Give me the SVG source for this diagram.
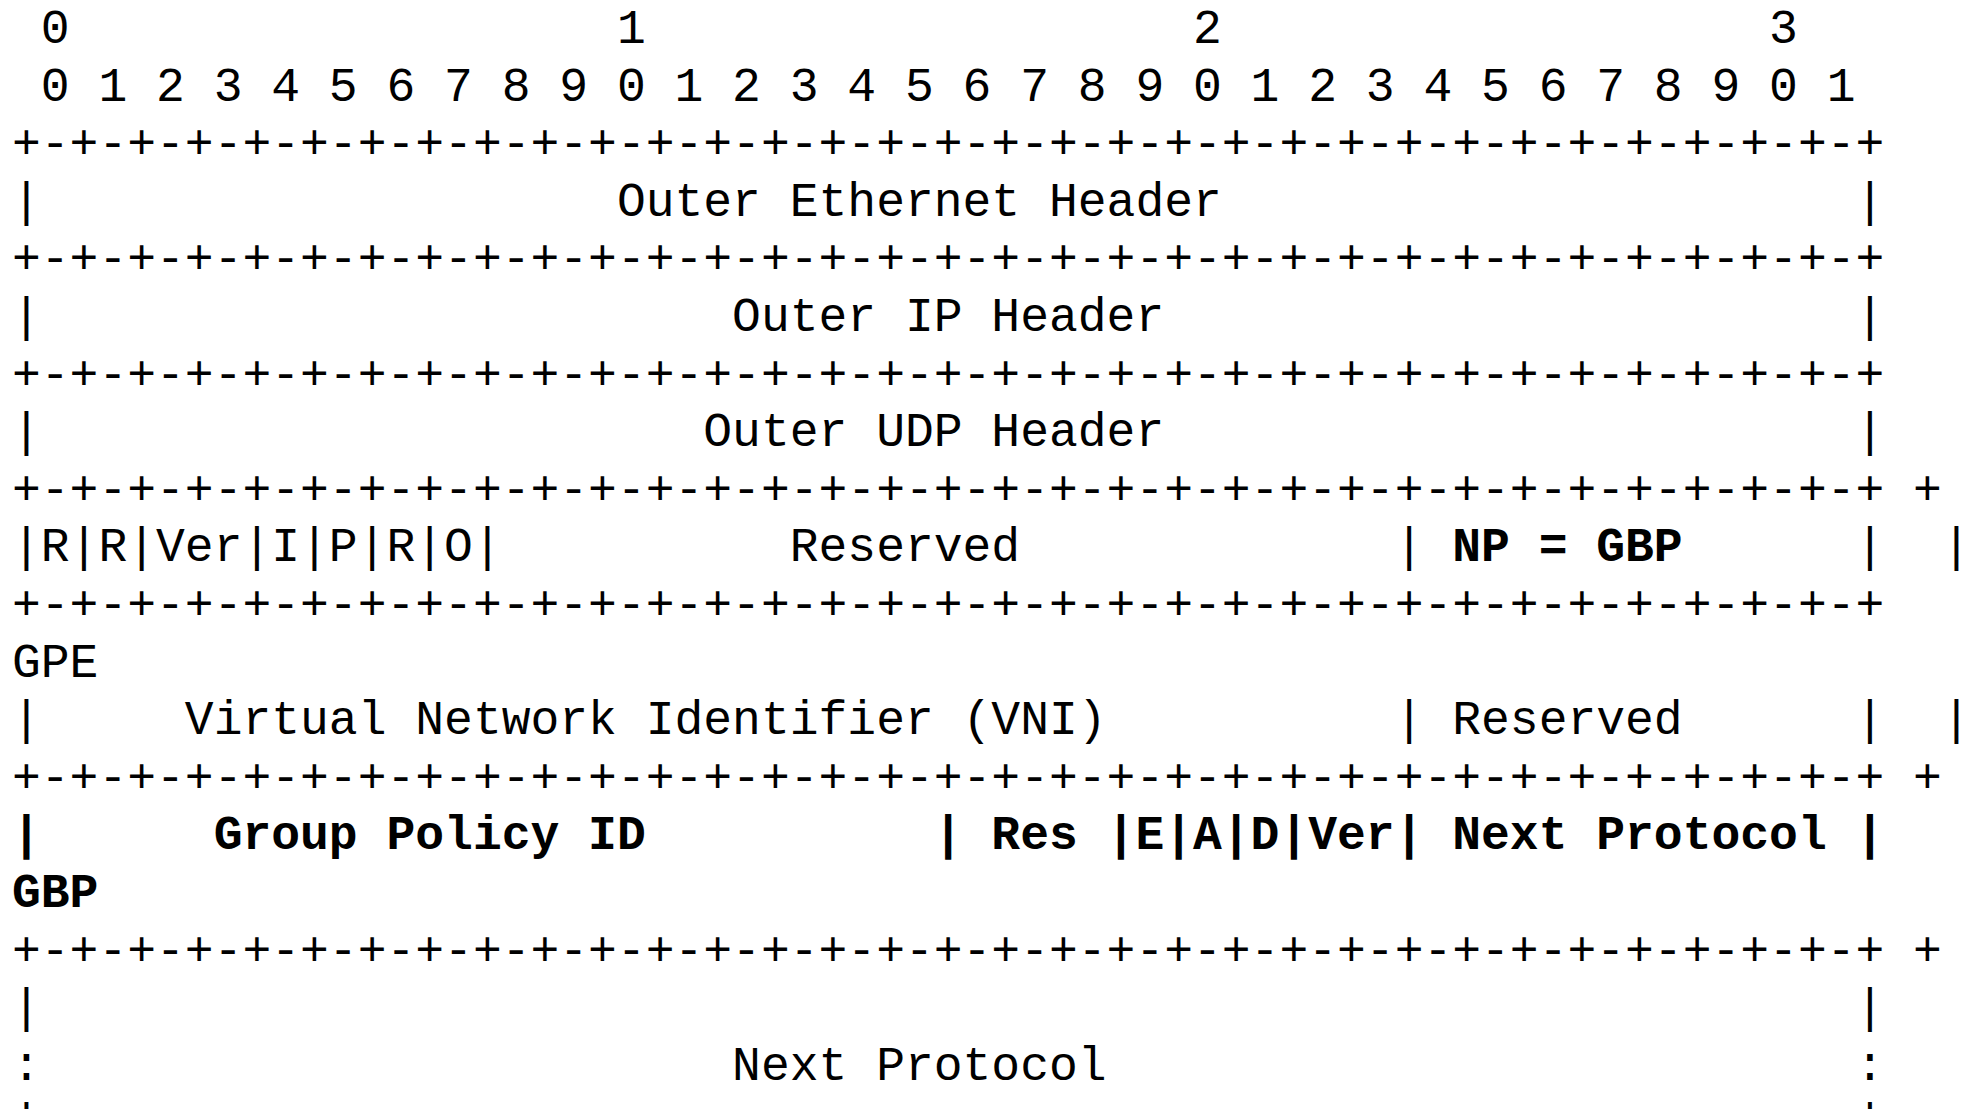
<svg xmlns="http://www.w3.org/2000/svg" width="1964" height="1109" viewBox="0 0 1964 1109">
<style>
text{font-family:"Liberation Mono","DejaVu Sans Mono",monospace;font-size:48px;fill:#000;white-space:pre}
.b{font-weight:bold}
</style>
<rect width="1964" height="1109" fill="#fff"/>
<g id="diagram" xml:space="preserve">
<text x="12" y="43"> 0                   1                   2                   3</text>
<text x="12" y="100.6"> 0 1 2 3 4 5 6 7 8 9 0 1 2 3 4 5 6 7 8 9 0 1 2 3 4 5 6 7 8 9 0 1</text>
<text x="12" y="158.2">+-+-+-+-+-+-+-+-+-+-+-+-+-+-+-+-+-+-+-+-+-+-+-+-+-+-+-+-+-+-+-+-+</text>
<text x="12" y="215.8">|                    Outer Ethernet Header                      |</text>
<text x="12" y="273.4">+-+-+-+-+-+-+-+-+-+-+-+-+-+-+-+-+-+-+-+-+-+-+-+-+-+-+-+-+-+-+-+-+</text>
<text x="12" y="331">|                        Outer IP Header                        |</text>
<text x="12" y="388.6">+-+-+-+-+-+-+-+-+-+-+-+-+-+-+-+-+-+-+-+-+-+-+-+-+-+-+-+-+-+-+-+-+</text>
<text x="12" y="446.2">|                       Outer UDP Header                        |</text>
<text x="12" y="503.8">+-+-+-+-+-+-+-+-+-+-+-+-+-+-+-+-+-+-+-+-+-+-+-+-+-+-+-+-+-+-+-+-+ +</text>
<text x="12" y="561.4">|R|R|Ver|I|P|R|O|          Reserved             | <tspan class="b">NP = GBP</tspan>      |  |</text>
<text x="12" y="619">+-+-+-+-+-+-+-+-+-+-+-+-+-+-+-+-+-+-+-+-+-+-+-+-+-+-+-+-+-+-+-+-+</text>
<text x="12" y="676.6">GPE</text>
<text x="12" y="734.2">|     Virtual Network Identifier (VNI)          | Reserved      |  |</text>
<text x="12" y="791.8">+-+-+-+-+-+-+-+-+-+-+-+-+-+-+-+-+-+-+-+-+-+-+-+-+-+-+-+-+-+-+-+-+ +</text>
<text x="12" y="849.4" class="b">|      Group Policy ID          | Res |E|A|D|Ver| Next Protocol |</text>
<text x="12" y="907" class="b">GBP</text>
<text x="12" y="964.6">+-+-+-+-+-+-+-+-+-+-+-+-+-+-+-+-+-+-+-+-+-+-+-+-+-+-+-+-+-+-+-+-+ +</text>
<text x="12" y="1022.2">|                                                               |</text>
<text x="12" y="1079.8">:                        Next Protocol                          :</text>
<text x="12" y="1137.4">|                                                               |</text>
</g>
</svg>
